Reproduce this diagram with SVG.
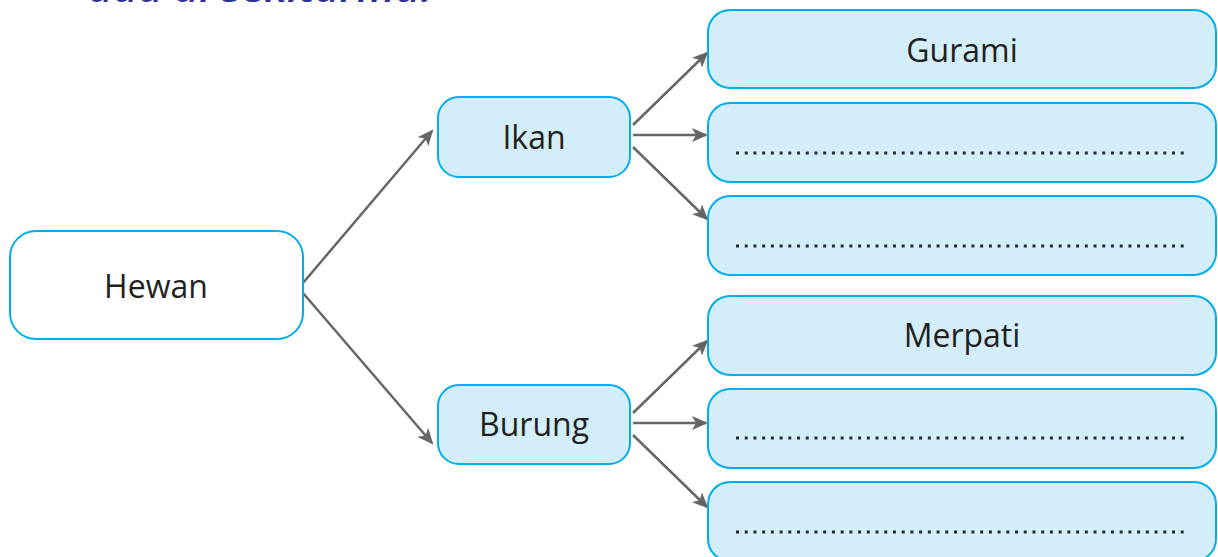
<svg xmlns="http://www.w3.org/2000/svg" width="1218" height="557" viewBox="0 0 1218 557">
<style>
.lbl{font-family:"Open Sans","Noto Sans",sans-serif;font-size:32px;fill:#231f20;text-anchor:middle}
.box{fill:#d3eef9;stroke:#00aeef;stroke-width:2}
.root{fill:#ffffff;stroke:#00aeef;stroke-width:2}
.dots{stroke:#2a2a2a;stroke-width:3.2;stroke-dasharray:3 5.72;fill:none}
.con{stroke:#666;stroke-width:2.5;fill:none;marker-end:url(#ah)}
.hdr{font-family:"Open Sans","Noto Sans",sans-serif;font-style:italic;font-weight:600;font-size:36px;fill:#2e3192}
</style>
<defs>
<marker id="ah" markerWidth="18" markerHeight="14" refX="14" refY="7" orient="auto" markerUnits="userSpaceOnUse">
<path d="M0,0 L16,7 L0,14 L4,7 Z" fill="#666"/>
</marker>
</defs>
<text class="hdr" x="88" y="2" textLength="344" lengthAdjust="spacingAndGlyphs">ada di sekitarmu.</text>
<g id="connectors">
<line class="con" x1="303" y1="283" x2="432" y2="131"/>
<line class="con" x1="303" y1="293" x2="432" y2="443"/>
<line class="con" x1="633" y1="125" x2="707" y2="53"/>
<line class="con" x1="633" y1="135" x2="706" y2="135"/>
<line class="con" x1="633" y1="147" x2="707" y2="219"/>
<line class="con" x1="633" y1="413" x2="707" y2="341"/>
<line class="con" x1="633" y1="423" x2="706" y2="423"/>
<line class="con" x1="633" y1="435" x2="707" y2="507"/>
</g>
<g id="hewan">
<rect class="root" x="10" y="231" width="293" height="108" rx="26"/>
<text class="lbl" x="156" y="298">Hewan</text>
</g>
<g id="ikan">
<rect class="box" x="438" y="97" width="192" height="80" rx="21"/>
<text class="lbl" x="534" y="149">Ikan</text>
</g>
<g id="burung">
<rect class="box" x="438" y="385" width="192" height="79" rx="21"/>
<text class="lbl" x="534" y="436">Burung</text>
</g>
<g id="gurami">
<rect class="box" x="708" y="10" width="508" height="78" rx="22"/>
<text class="lbl" x="962" y="62">Gurami</text>
</g>
<g id="ikan2">
<rect class="box" x="708" y="103" width="508" height="79" rx="22"/>
<line class="dots" x1="736" y1="153" x2="1188" y2="153"/>
</g>
<g id="ikan3">
<rect class="box" x="708" y="196" width="508" height="79" rx="22"/>
<line class="dots" x1="736" y1="246" x2="1188" y2="246"/>
</g>
<g id="merpati">
<rect class="box" x="708" y="296" width="508" height="79" rx="22"/>
<text class="lbl" x="962" y="347">Merpati</text>
</g>
<g id="burung2">
<rect class="box" x="708" y="389" width="508" height="79" rx="22"/>
<line class="dots" x1="736" y1="438" x2="1188" y2="438"/>
</g>
<g id="burung3">
<rect class="box" x="708" y="482" width="508" height="79" rx="22"/>
<line class="dots" x1="736" y1="532" x2="1188" y2="532"/>
</g>
</svg>
